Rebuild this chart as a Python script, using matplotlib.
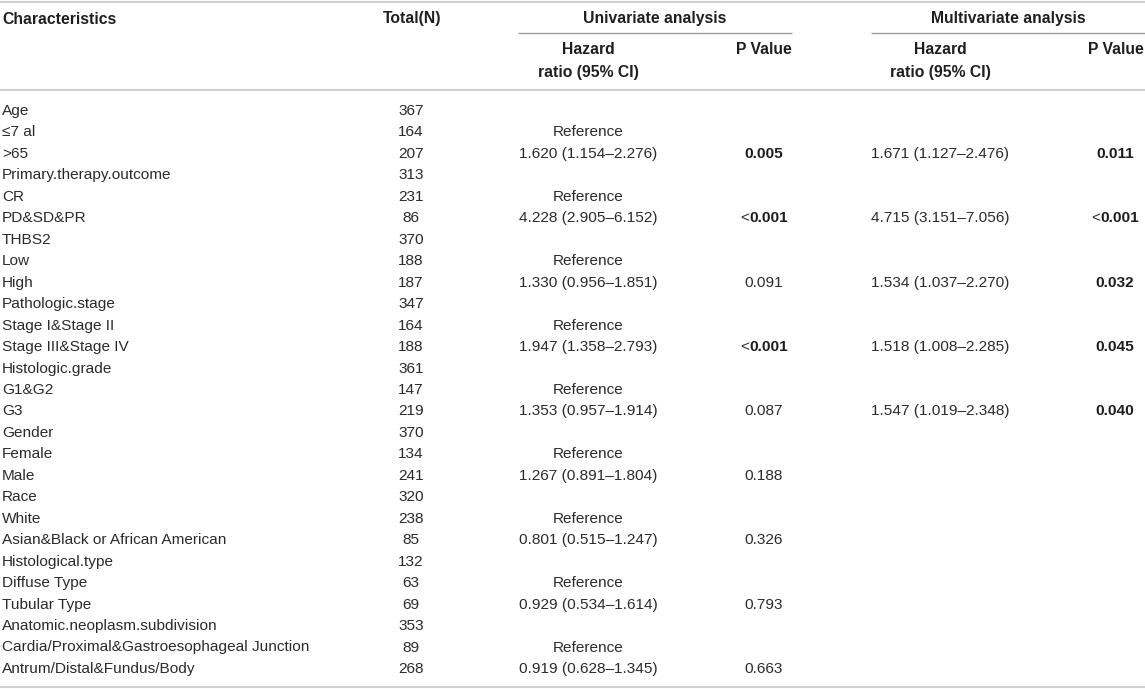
import matplotlib
matplotlib.use("Agg")
import matplotlib.pyplot as plt

characteristics = ["Age", "≤7 al", ">65", "Primary.therapy.outcome", "CR", "PD&SD&PR",
                   "THBS2", "Low", "High", "Pathologic.stage", "Stage I&Stage II",
                   "Stage III&Stage IV", "Histologic.grade", "G1&G2", "G3", "Gender",
                   "Female", "Male", "Race", "White", "Asian&Black or African American",
                   "Histological.type", "Diffuse Type", "Tubular Type",
                   "Anatomic.neoplasm.subdivision", "Cardia/Proximal&Gastroesophageal Junction",
                   "Antrum/Distal&Fundus/Body"]
total_n = ["367", "164", "207", "313", "231", "86", "370", "188", "187", "347", "164",
           "188", "361", "147", "219", "370", "134", "241", "320", "238", "85", "132",
           "63", "69", "353", "89", "268"]
uni_hr = ["", "Reference", "1.620 (1.154–2.276)", "", "Reference", "4.228 (2.905–6.152)",
          "", "Reference", "1.330 (0.956–1.851)", "", "Reference", "1.947 (1.358–2.793)",
          "", "Reference", "1.353 (0.957–1.914)", "", "Reference", "1.267 (0.891–1.804)",
          "", "Reference", "0.801 (0.515–1.247)", "", "Reference", "0.929 (0.534–1.614)",
          "", "Reference", "0.919 (0.628–1.345)"]
uni_p = ["", "", "0.005", "", "", "<0.001", "", "", "0.091", "", "", "<0.001",
         "", "", "0.087", "", "", "0.188", "", "", "0.326", "", "", "0.793", "", "", "0.663"]
multi_hr = ["", "", "1.671 (1.127–2.476)", "", "", "4.715 (3.151–7.056)", "", "",
            "1.534 (1.037–2.270)", "", "", "1.518 (1.008–2.285)", "", "",
            "1.547 (1.019–2.348)", "", "", "", "", "", "", "", "", "", "", "", ""]
multi_p = ["", "", "0.011", "", "", "<0.001", "", "", "0.032", "", "", "0.045", "", "",
           "0.040", "", "", "", "", "", "", "", "", "", "", "", ""]
SIG = 0.05

W, H = 1145, 689
fig = plt.figure(figsize=(W / 100, H / 100), dpi=100)
ax = fig.add_axes([0, 0, 1, 1])
ax.set_xlim(0, W)
ax.set_ylim(H, 0)
ax.axis("off")

FAM = ["Liberation Sans", "DejaVu Sans"]
FS = 11.1
HFS = 11.3
TXT = "#2b2b2b"
HTXT = "#1e1e1e"
LINE = "#cfcfcf"

renderer = fig.canvas.get_renderer()

def txt(x, y, s, ha="center", bold=False, size=None, color=None):
    return ax.text(x, y, s, ha=ha, va="center", fontfamily=FAM,
                   fontsize=size or (HFS if bold else FS),
                   fontweight="bold" if bold else "normal",
                   color=color or (HTXT if bold else TXT))

def width_px(s, bold):
    t = ax.text(0, 0, s, fontfamily=FAM, fontsize=FS,
                fontweight="bold" if bold else "normal")
    w = t.get_window_extent(renderer=renderer).width
    t.remove()
    return w

def pval(x, y, s):
    if not s:
        return
    if s.startswith("<"):
        num = s[1:]
        bold = float(num) < SIG
        w_lt = width_px("<", False)
        w_n = width_px(num, bold)
        x0 = x - (w_lt + w_n) / 2 + w_lt
        txt(x0, y, "<", ha="right")
        txt(x0, y, num, ha="left", bold=bold, size=FS)
    else:
        bold = float(s) < SIG
        txt(x, y, s, bold=bold, size=FS)

# rules
ax.plot([0, W], [1.5, 1.5], color=LINE, lw=1.5, solid_capstyle="butt")
ax.plot([518, 792], [33, 33], color="#9a9a9a", lw=1.0, solid_capstyle="butt")
ax.plot([871, W], [33, 33], color="#9a9a9a", lw=1.0, solid_capstyle="butt")
ax.plot([0, W], [90, 90], color=LINE, lw=1.5, solid_capstyle="butt")
ax.plot([0, W], [687, 687], color=LINE, lw=1.5, solid_capstyle="butt")

# header
X_CHAR, X_TOT, X_UHR, X_UP, X_MHR, X_MP = 2, 411, 588, 764, 940, 1115
txt(X_CHAR, 19, "Characteristics", ha="left", bold=True)
txt(412, 19, "Total(N)", bold=True)
txt(655, 19, "Univariate analysis", bold=True)
txt(1008, 19, "Multivariate analysis", bold=True)
txt(588, 50, "Hazard", bold=True)
txt(588, 72, "ratio (95% CI)", bold=True)
txt(792, 50, "P Value", ha="right", bold=True)
txt(940, 50, "Hazard", bold=True)
txt(940, 72, "ratio (95% CI)", bold=True)
txt(1144, 50, "P Value", ha="right", bold=True)

y0, dy = 111, 21.46
for i in range(len(characteristics)):
    y = y0 + i * dy
    txt(X_CHAR, y, characteristics[i], ha="left")
    txt(X_TOT, y, total_n[i])
    if uni_hr[i]:
        txt(X_UHR, y, uni_hr[i])
    pval(X_UP, y, uni_p[i])
    if multi_hr[i]:
        txt(X_MHR, y, multi_hr[i])
    pval(X_MP, y, multi_p[i])

fig.savefig("out.png", dpi=100, facecolor="white")
